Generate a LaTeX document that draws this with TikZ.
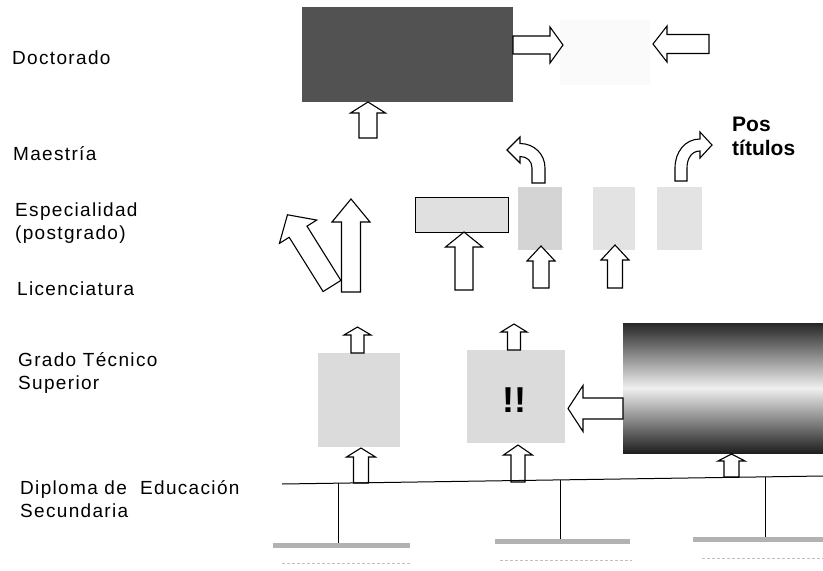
\documentclass[tikz,border=0pt]{standalone}
\usepackage{fontspec}
\setmainfont{Liberation Sans}
\newfontfamily\lblfont[LetterSpace=7]{Liberation Sans}
\newcommand{\blkarrow}[6]{%
  \draw[blk,shift={#1},rotate=#2] (0,#6) -- ({#3-#4},#6) -- ({#3-#4},#5) -- (#3,0)
    -- ({#3-#4},-#5) -- ({#3-#4},-#6) -- (0,-#6) -- cycle;}

\begin{document}
\begin{tikzpicture}[
    x = 1pt, y = -1pt,
    lbl/.style = {anchor=west, align=left, inner sep=0pt,
                  font=\lblfont\fontsize{19}{23}\selectfont},
    postxt/.style = {anchor=west, align=left, inner sep=0pt,
                  font=\bfseries\fontsize{21}{24}\selectfont},
    box/.style = {anchor=north west, inner sep=0pt, outer sep=0pt},
    blob/.style = {box, fill=black!14},
    blk/.style = {draw=black, fill=white, line width=1.1pt, line join=miter},
    bar/.style = {fill=black!30},
    faint/.style = {black!25, line width=0.6pt, dash pattern=on 3pt off 2pt}
                    ]
\useasboundingbox (0,0) rectangle (823,571);

\node[lbl] (doctorado) at (12,58) {Doctorado};
\node[lbl] (maestria) at (13,154) {Maestría};
\node[lbl] (especialidad) at (15,223.5) {Especialidad\\(postgrado)};
\node[lbl] (licenciatura) at (17,289) {Licenciatura};
\node[lbl] (tecnico) at (18,373) {Grado Técnico\\Superior};
\node[lbl] (diploma) at (20,499) {Diploma de\ \ Educación\\Secundaria};
\node[postxt] (postitulos) at (732,136) {Pos\\títulos};

\node[box, fill=black!68, minimum width=211, minimum height=95] (doc) at (302,7) {};
\node[box, fill=black!2, minimum width=90, minimum height=65] (docext) at (560,20) {};
\node[box, fill=black!12, draw=black, line width=0.7pt, minimum width=93, minimum height=35] (esp) at (415,197) {};
\node[blob, fill=black!17, minimum width=44, minimum height=63] (mae1) at (518,187) {};
\node[blob, fill=black!11, minimum width=42, minimum height=63] (mae2) at (593,187) {};
\node[blob, fill=black!11, minimum width=45, minimum height=63] (mae3) at (657,187) {};
\node[blob, minimum width=82, minimum height=94] (tec1) at (318,353) {};
\node[blob, minimum width=98, minimum height=93] (tec2) at (467,350) {};
\node[font=\bfseries\fontsize{36}{36}\selectfont, inner sep=0pt] (excl) at (514,400) {!!};
\node[box, minimum width=200, minimum height=130, top color=black!85,
      bottom color=black!88, middle color=black!6] (tsu) at (623,323) {};

\blkarrow{(368,138)}{90}{36}{11}{17.5}{9}
\blkarrow{(513,45)}{0}{50}{13}{18}{9}
\blkarrow{(709,44)}{180}{56}{14}{18}{9.5}
\blkarrow{(351,292)}{90}{93}{23}{19}{9.5}
\blkarrow{(332,286)}{122}{84}{20}{22}{10.5}
\blkarrow{(464,290)}{90}{58}{15}{18.5}{9}
\blkarrow{(541,288)}{90}{42}{15}{14}{8}
\blkarrow{(615,288)}{90}{43}{15}{14}{7.5}
\blkarrow{(357.5,353)}{90}{26}{8}{13.5}{6.5}
\blkarrow{(514,350)}{90}{26}{8}{13}{6.5}
\blkarrow{(361,483)}{90}{35}{9}{14.5}{7.5}
\blkarrow{(518,482)}{90}{37}{10}{14.5}{7}
\blkarrow{(623,408.5)}{180}{55}{15}{23}{10.5}
\blkarrow{(731.5,477)}{90}{23}{7}{13.5}{7.5}

\draw[blk] (532,183) -- (532,168) .. controls (532,161) and (527,156.5) .. (520,156.5)
  -- (520,163) -- (507,150) -- (520,137) -- (520,143.5)
  .. controls (534,143.5) and (545,154) .. (545,168) -- (545,183) -- cycle;
\draw[blk] (675,181) -- (675,168) .. controls (675,152) and (685,139) .. (700,139)
  -- (700,132) -- (712,145) -- (700,158) -- (700,151)
  .. controls (692,151) and (687,158) .. (687,168) -- (687,181) -- cycle;

\coordinate (l0) at (282,484);
\coordinate (l1) at (338,483.2);
\coordinate (l2) at (560,479.9);
\coordinate (l3) at (765,476.9);
\coordinate (l4) at (823,476);
\coordinate (d1) at (338,544);
\coordinate (d2) at (560,540);
\coordinate (d3) at (765,537);
\draw[line width=1pt] (l0) -- (l4);
\draw[line width=1pt] (l1) -- (d1);
\draw[line width=1pt] (l2) -- (d2);
\draw[line width=1pt] (l3) -- (d3);

\fill[bar] (273,543) rectangle (410,548);
\fill[bar] (495,539) rectangle (630,544);
\fill[bar] (693,537) rectangle (823,542);
\draw[faint] (282,563) -- (410,563);
\draw[faint] (500,560) -- (632,560);
\draw[faint] (702,558) -- (823,558);
\end{tikzpicture}
\end{document}
